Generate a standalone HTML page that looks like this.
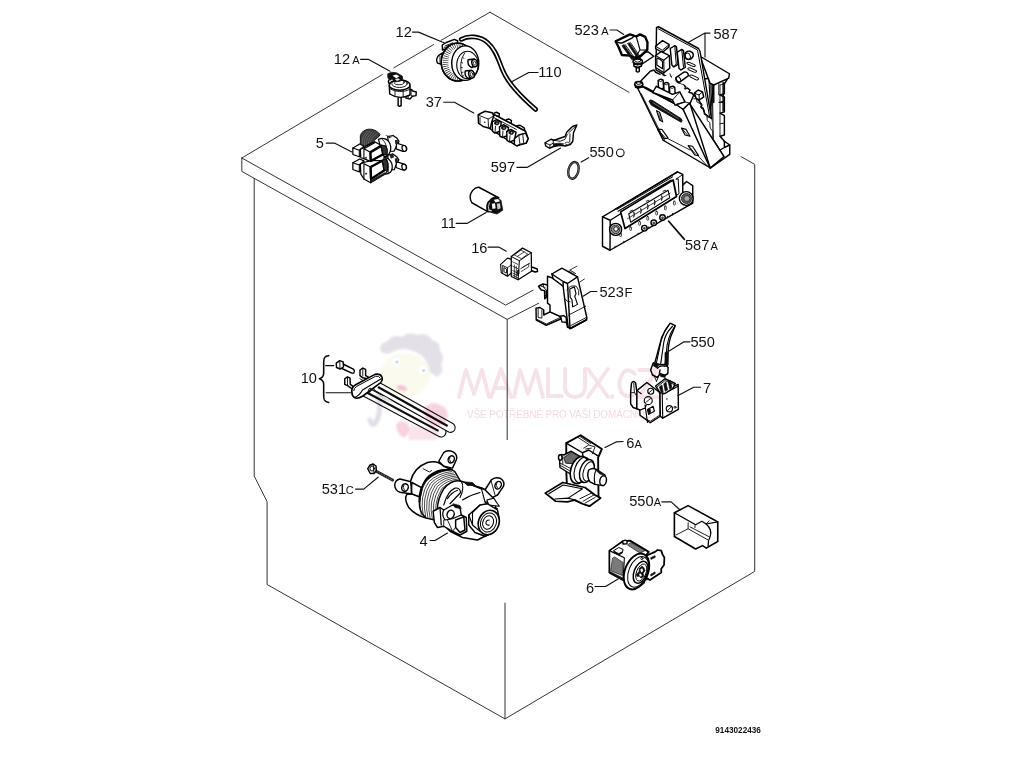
<!DOCTYPE html>
<html><head><meta charset="utf-8"><title>9143022436</title>
<style>
html,body{margin:0;padding:0;background:#fff;width:1024px;height:768px;overflow:hidden}
svg{display:block}
text{font-family:"Liberation Sans",sans-serif;fill:#111}
.n{font-size:14px}
.s{font-size:10.5px}
.cab{fill:none;stroke:#333;stroke-width:1;stroke-linecap:round;stroke-linejoin:round}
.ld{fill:none;stroke:#111;stroke-width:1.15;stroke-linecap:round;stroke-linejoin:round}
.p{fill:#fff;stroke:#000;stroke-width:11.5;stroke-linejoin:round;stroke-linecap:round}
.o{fill:none;stroke:#000;stroke-width:11.5;stroke-linejoin:round;stroke-linecap:round}
.t{fill:none;stroke:#111;stroke-width:7.5;stroke-linejoin:round;stroke-linecap:round}
.k{fill:#111;stroke:#111;stroke-width:6;stroke-linejoin:round}
.g{fill:#777;stroke:#111;stroke-width:7;stroke-linejoin:round}
.h{fill:#fff;stroke:#111;stroke-width:12;stroke-linejoin:round;stroke-linecap:round}
</style></head>
<body>
<svg width="1024" height="768" viewBox="0 0 1024 768">
<defs>
<filter id="b1" x="-20%" y="-20%" width="140%" height="140%"><feGaussianBlur stdDeviation="1.2"/></filter>
<filter id="b2" x="-20%" y="-20%" width="140%" height="140%"><feGaussianBlur stdDeviation="0.7"/></filter>
<filter id="idf" x="0" y="0" width="1024" height="768" filterUnits="userSpaceOnUse"><feOffset dx="0" dy="0"/></filter>
<filter id="soft" x="0" y="0" width="1024" height="768" filterUnits="userSpaceOnUse"><feGaussianBlur stdDeviation="0.38"/></filter>
</defs>
<rect width="1024" height="768" fill="#fff"/>

<g filter="url(#soft)">
<!-- CABINET -->
<g class="cab" id="cab">
<path d="M490 12.2 L441.1 40.3 M433.6 44.6 L393.9 67.8 M382.3 74.6 L241.8 158"/>
<path d="M490 12.2 L629 92.3 M741 156.6 L754.7 164.4 L754.7 571.4 L505 718.9 L267.1 584.5 L267.1 501.7 L254.2 476 L254.2 178.4"/>
<path d="M241.8 158 L241.8 171.4 L507.2 319.4 L538.7 303.2 M241.8 158 L505.7 305.1 L533 290.2"/>
<path d="M507.2 319.4 L507.2 439.6 M505 603 L505 718.9"/>
<path d="M570 270 L576.9 266.2 M580 281.9 L584.4 279"/>
</g>

<!-- PARTS -->
<g id="parts">
<g transform="translate(346,124) scale(.08333)" fill="#fff" stroke="#000" stroke-width="15" stroke-linejoin="round" stroke-linecap="round">
<!-- thread inlet -->
<path d="M172 240 L172 140 Q190 75 270 62 Q350 56 410 125 L395 150 L330 205 L240 265 Z" fill="#3c3c3c" stroke-width="10"/>
<path d="M198 240 Q185 140 262 82 M222 246 Q210 150 288 86 M246 245 Q236 158 314 94 M270 232 Q262 168 340 104 M296 215 Q292 172 366 118" fill="none" stroke="#8a8a8a" stroke-width="6"/>
<!-- lower nozzle -->
<path d="M500 372 L562 360 L608 392 L634 430 L610 470 L578 548 L520 552 Z"/>
<path d="M606 452 L684 478 Q735 494 726 530 Q712 560 680 552 L600 522 Z"/>
<ellipse cx="697" cy="516" rx="26" ry="36" transform="rotate(-15 697 516)"/>
<path d="M585 415 L618 408 L622 458 L590 462 Z" fill="#222" stroke="none"/>
<path d="M520 372 L560 352 L578 398 L540 418 Z" fill="#222" stroke="none"/>
<!-- upper nozzle -->
<path d="M500 150 L565 138 L612 172 L636 208 L612 250 L578 325 L520 330 Z"/>
<path d="M608 230 L686 255 Q737 270 728 306 Q714 336 682 328 L602 298 Z"/>
<ellipse cx="699" cy="292" rx="26" ry="36" transform="rotate(-15 699 292)"/>
<path d="M587 195 L620 188 L624 238 L592 242 Z" fill="#222" stroke="none"/>
<path d="M470 130 L530 150 L560 150 L520 172 Z" fill="#222" stroke="none"/>
<!-- lower valve body -->
<path d="M455 400 Q520 405 548 470 Q568 540 532 580 Q505 605 462 602 Z"/>
<path d="M478 412 Q525 470 505 590" fill="none" stroke-width="10"/>
<!-- upper valve body -->
<path d="M390 185 Q460 152 510 205 Q552 265 530 330 Q510 385 462 398 L420 300 Z"/>
<path d="M438 185 Q505 240 490 390" fill="none" stroke-width="10"/>
<!-- lower cube -->
<path d="M82 465 L165 420 L214 442 L214 500 L160 574 L82 546 Z"/>
<path d="M82 465 L160 492 L214 444 M160 492 L160 574" fill="none" stroke-width="13"/>
<!-- lower main block -->
<path d="M172 482 L214 462 L300 440 L442 436 L482 420 L500 470 L496 562 L470 600 L296 706 L215 660 L178 602 Z"/>
<path d="M215 476 L290 512 L296 706 M215 476 L215 660" fill="none" stroke-width="13"/>
<path d="M296 516 L440 438 L462 556 L300 660 Z" fill="#fff" stroke-width="28"/>
<path d="M440 436 L482 420 L500 470 L496 562 L462 556 Z" fill="#333" stroke-width="8"/>
<path d="M300 672 L466 578 L474 598 L298 702 Z" fill="#222" stroke="none"/>
<circle cx="240" cy="598" r="12" fill="#333" stroke="none"/>
<!-- upper cube -->
<path d="M82 288 L165 240 L214 264 L214 320 L160 393 L82 366 Z"/>
<path d="M82 288 L160 314 L214 266 M160 314 L160 393" fill="none" stroke-width="13"/>
<!-- upper main block -->
<path d="M172 306 L214 285 L240 265 L345 212 L412 252 L470 262 L492 300 L490 372 L445 365 L292 448 L215 416 L178 405 Z"/>
<path d="M215 298 L288 336 L292 448 M215 298 L215 416 M288 336 L412 256 M215 298 L345 224" fill="none" stroke-width="13"/>
<path d="M294 340 L426 260 L446 362 L298 444 Z" fill="#fff" stroke-width="28"/>
<path d="M426 258 L470 262 L492 300 L490 372 L446 362 Z" fill="#333" stroke-width="8"/>
<circle cx="240" cy="404" r="12" fill="#333" stroke="none"/>
</g>

<g transform="translate(295,345) scale(.125)">
<!-- bolt -->
<path class="p" d="M380 150 L470 195 Q482 210 470 225 L455 225 L375 188 Z"/>
<path class="p" d="M330 145 L358 125 L385 135 L388 175 L362 192 L332 180 Z"/>
<path class="t" d="M358 125 L360 192"/>
<!-- terminals -->
<path class="p" d="M520 200 L542 185 L565 195 L565 245 L585 255 L580 270 L540 262 L520 245 Z"/>
<path class="t" d="M542 185 L542 250 M520 270 L545 285"/>
<path class="p" d="M398 270 L420 255 L440 265 L442 315 L470 335 L455 350 L420 325 L398 315 Z"/>
<path class="t" d="M420 255 L420 320"/>
<!-- tubes (coords continue beyond) -->
<g fill="none" stroke-linecap="round">
<path d="M556 370 L1170 698" stroke="#111" stroke-width="84"/><path d="M556 370 L1170 698" stroke="#fff" stroke-width="66"/><path d="M556 370 L1148 687" stroke="#111" stroke-width="18" stroke-linecap="butt"/>
<path d="M664 336 L1244 661" stroke="#111" stroke-width="84"/><path d="M664 336 L1244 661" stroke="#fff" stroke-width="66"/><path d="M664 336 L1221 648" stroke="#111" stroke-width="18" stroke-linecap="butt"/>
</g>
<path d="M656 392 L728 416 L800 464 L712 440 Z" fill="#ddd"/>
<!-- flange -->
<path class="p" d="M455 375 Q450 340 485 318 L640 235 Q680 225 695 255 Q705 285 680 305 L540 410 Q500 435 475 420 Q455 405 455 375 Z" style="stroke-width:13"/>
<path class="o" d="M470 365 Q470 345 495 330 L645 250 Q672 245 680 262" style="stroke-width:8"/>
<path class="o" d="M478 420 Q520 400 540 360 L690 270" style="stroke-width:9"/>
<ellipse class="t" cx="598" cy="362" rx="10" ry="16" transform="rotate(30 598 362)"/>
</g>

<g transform="translate(420,160) scale(.125)">
<!-- capacitor body -->
<path class="p" d="M470 218 L630 302 L545 415 L415 342 Q385 290 420 245 Q445 215 470 218 Z"/>
<!-- connector -->
<path class="k" d="M545 340 Q560 305 600 292 L648 322 L662 402 L615 432 L540 412 Q530 375 545 340 Z"/>
<path d="M590 318 L625 312 L640 330 L605 340 Z" fill="#fff"/>
<path d="M575 350 L600 345 L605 385 L580 392 Z" fill="#fff"/>
<path d="M615 350 L640 345 L645 385 L620 395 Z" fill="#ccc"/>
<path d="M550 395 L575 402 L572 412 L548 405 Z" fill="#ddd"/>
<path class="o" d="M548 330 Q525 370 540 412" style="stroke-width:9"/>
<path d="M556 340 Q540 372 552 405" fill="none" stroke="#fff" stroke-width="6"/>
</g>

<g transform="translate(425,20) scale(.125)">
<!-- hose 110 -->
<path d="M290 155 C350 122 440 128 500 180 C570 240 590 330 625 410 C660 490 740 590 885 715" fill="none" stroke="#000" stroke-width="38" stroke-linecap="round"/>
<path d="M290 155 C350 122 440 128 500 180 C570 240 590 330 625 410 C660 490 740 590 885 715" fill="none" stroke="#fff" stroke-width="12" stroke-linecap="round"/>
<!-- bracket -->
<path class="p" d="M140 240 L138 200 L170 180 L235 155 L262 168 L255 205 L200 225 Z"/>
<path class="t" d="M160 208 L225 182 L228 205 M185 218 L185 198 M150 225 L205 200"/>
<!-- left boss -->
<path class="p" d="M140 262 L108 285 Q82 315 100 345 L145 358 Z"/>
<path class="t" d="M120 290 L120 340"/>
<!-- back rim -->
<ellipse class="p" cx="262" cy="337" rx="132" ry="152"/>
<clipPath id="c12"><ellipse cx="262" cy="337" rx="132" ry="152"/></clipPath><ellipse clip-path="url(#c12)" cx="282" cy="338" rx="118" ry="140" fill="none" stroke="#111" stroke-width="46" stroke-dasharray="5 11"/>
<ellipse class="o" cx="262" cy="337" rx="132" ry="152"/>
<ellipse class="p" cx="322" cy="345" rx="108" ry="138"/>
<ellipse class="o" cx="340" cy="360" rx="86" ry="110" style="stroke-width:9"/>
<path class="t" d="M318 262 Q262 340 300 462"/>
<path class="t" d="M300 300 l12 6 M290 340 l12 4 M288 380 l12 2 M292 420 l12 -2 M300 450 l10 -4" style="stroke-width:7"/>
<!-- ports -->
<path class="p" d="M345 318 L395 312 Q425 330 418 362 L372 380 Q335 360 345 318 Z"/>
<ellipse class="p" cx="397" cy="345" rx="22" ry="30" transform="rotate(-15 397 345)"/>
<ellipse class="o" cx="398" cy="346" rx="11" ry="16" transform="rotate(-15 398 346)" style="stroke-width:6"/>
<path class="p" d="M322 408 L372 402 Q400 420 393 452 L348 468 Q312 450 322 408 Z"/>
<ellipse class="p" cx="372" cy="435" rx="22" ry="30" transform="rotate(-15 372 435)"/>
<ellipse class="o" cx="373" cy="436" rx="11" ry="16" transform="rotate(-15 373 436)" style="stroke-width:6"/>
</g>

<g transform="translate(330,40) scale(.125)">
<!-- pin -->
<path class="p" d="M545 455 L545 525 Q557 535 569 525 L569 455 Z"/>
<!-- right connector -->
<path class="p" d="M600 402 L650 395 L665 410 L690 415 L688 445 L660 450 L640 472 L608 465 Z"/>
<path class="t" d="M650 395 L648 440 L660 450 M625 440 L625 468"/>
<!-- body -->
<path class="p" d="M474 365 L478 432 Q555 482 640 440 L640 368 Z"/>
<path class="t" d="M520 400 L520 452 M585 400 L585 455 M478 390 Q555 435 640 395"/>
<!-- dome -->
<ellipse class="p" cx="557" cy="360" rx="83" ry="42"/>
<ellipse class="o" cx="556" cy="350" rx="62" ry="30" style="stroke-width:7"/>
<ellipse class="o" cx="553" cy="338" rx="40" ry="20" style="stroke-width:7"/>
<!-- top connector dark -->
<path class="k" d="M462 270 L492 258 L532 262 L578 288 L582 312 L560 330 L520 335 L498 312 L478 322 L462 300 Z"/>
<path d="M500 285 L530 275 L555 290 L530 305 Z" fill="#fff"/>
<path d="M520 312 L545 305 L560 318 L535 328 Z" fill="#ddd"/>
<path class="o" d="M470 320 Q462 340 478 352" />
</g>

<g transform="translate(470,235) scale(.125)">
<!-- pin -->
<path class="p" d="M470 245 L500 258 L538 272 L540 292 L520 296 L480 280 Z"/>
<!-- left attach -->
<path class="p" d="M245 235 L300 185 L335 195 L335 300 L300 330 L250 302 Z" style="stroke-width:9"/>
<path class="t" d="M262 245 L300 262 L300 330 M262 245 L262 300 M300 262 L335 235 M272 265 L272 295 L292 305 L292 275 Z"/>
<circle cx="288" cy="322" r="7" fill="#111"/>
<!-- box -->
<path class="p" d="M330 172 L420 105 L490 142 L492 290 L385 358 L330 332 Z" style="stroke-width:10"/>
<path class="o" d="M330 172 L395 206 L490 142 M395 206 L385 358" style="stroke-width:8"/>
<path class="t" d="M355 160 L412 190 L462 152 L410 122 Z M380 170 L435 135" style="stroke-width:6"/>
<path class="t" d="M342 285 L383 306 M342 305 L383 326 M342 322 L383 343 M355 240 L355 338 M370 250 L370 346" style="stroke-width:6"/>
<path class="t" d="M342 215 L383 235 M342 250 L383 270" style="stroke-width:6"/>
<path class="t" d="M405 270 L478 225 M415 262 L470 230 L470 255 L410 292" style="stroke-width:6"/>
<path class="k" d="M378 285 L392 278 L392 312 L378 318 Z"/>
</g>

<g transform="translate(420,80) scale(.125)">
<!-- top tabs -->
<path class="p" d="M588 285 L592 265 L612 258 L635 270 L632 292 Z"/>
<path class="p" d="M685 340 L690 318 L712 312 L732 325 L728 348 Z"/>
<path class="p" d="M765 392 L772 368 L800 362 L835 385 L838 410 Z"/>
<!-- long bar -->
<path class="p" d="M565 285 L600 280 L845 410 L865 470 L850 505 L780 525 L755 515 L560 390 Z"/>
<!-- terminal blocks -->
<path class="p" d="M578 335 L612 318 L650 338 L640 410 L600 425 L580 410 Z"/>
<path class="p" d="M636 375 L668 358 L708 380 L698 445 L660 460 L638 448 Z"/>
<path class="p" d="M694 412 L726 396 L768 418 L756 482 L716 495 L696 484 Z"/>
<path class="k" d="M596 340 a18 13 0 1 0 36 10 a18 13 0 1 0 -36 -10Z"/>
<path class="k" d="M652 378 a18 13 0 1 0 36 10 a18 13 0 1 0 -36 -10Z"/>
<path class="k" d="M712 416 a18 13 0 1 0 36 10 a18 13 0 1 0 -36 -10Z"/>
<circle cx="616" cy="346" r="6" fill="#ccc"/><circle cx="672" cy="384" r="6" fill="#ccc"/><circle cx="732" cy="422" r="6" fill="#ccc"/>
<path class="t" d="M600 425 L604 370 M660 460 L664 408 M716 495 L720 445"/>
<!-- right end cap -->
<path class="p" d="M755 470 L790 440 L845 425 L865 470 L848 505 L800 515 L775 528 L755 515 Z"/>
<path class="t" d="M790 442 L800 515 M822 432 L830 508"/>
<path class="o" d="M600 282 L845 412 M590 300 L770 395" style="stroke-width:7"/>
<!-- left block -->
<path class="p" d="M465 278 L520 250 L578 262 L590 288 L575 332 L562 388 L505 372 L468 345 Z"/>
<path class="t" d="M468 282 L545 312 L590 288 M545 312 L548 382 M480 300 L480 345"/>
<circle cx="518" cy="338" r="6" fill="#111"/>
</g>

<g transform="translate(385,445) scale(.125)">
<!-- top lug -->
<path class="p" d="M430 130 L470 60 Q500 35 545 55 Q585 80 570 120 L540 185 L470 170 Z"/>
<ellipse class="p" cx="530" cy="115" rx="24" ry="30" transform="rotate(25 530 115)"/>
<path class="t" d="M520 95 Q505 115 525 135"/>
<!-- right lug -->
<path class="p" d="M800 360 L850 280 Q880 250 925 268 Q965 295 945 335 L900 400 L860 420 Z"/>
<ellipse class="p" cx="905" cy="322" rx="24" ry="32" transform="rotate(25 905 322)"/>
<path class="t" d="M895 300 Q880 322 900 345 M850 290 L880 400"/>
<!-- left lug -->
<path class="p" d="M230 300 L120 272 Q80 280 78 320 Q80 365 120 378 L215 392 Z"/>
<ellipse class="p" cx="160" cy="340" rx="26" ry="30" transform="rotate(20 160 340)"/>
<path class="t" d="M150 322 Q138 340 155 360"/>
<!-- rear housing -->
<path class="p" d="M205 290 Q230 180 340 140 Q420 120 470 170 L540 200 L330 585 Q240 560 190 500 Q150 430 175 395 L215 392 Z"/>
<path class="t" d="M305 190 L355 215 L372 205"/>
<path class="o" d="M215 300 L300 345 M215 392 L290 420 M215 300 L210 392"/>
<!-- lamination band -->
<path class="p" d="M300 330 Q330 230 450 200 Q530 185 560 215 L605 290 L400 600 L330 585 Q270 540 275 450 Z"/>
<g class="t" style="stroke-width:6">
<path d="M290 560 Q255 400 330 290 Q400 215 520 200"/>
<path d="M308 572 Q272 410 348 298 Q418 225 535 212"/>
<path d="M326 580 Q290 420 366 306 Q436 235 548 224"/>
<path d="M344 588 Q308 430 384 314 Q454 245 560 236"/>
<path d="M362 594 Q326 440 402 322 Q472 255 570 248"/>
<path d="M380 598 Q344 450 420 330 Q490 265 580 260"/>
<path d="M398 602 Q362 460 438 338 Q508 275 590 272"/>
<path d="M416 604 Q380 470 456 346 Q526 285 598 284"/>
</g>
<path class="o" d="M275 450 Q270 340 340 270 Q420 200 530 195" style="stroke-width:14"/>
<!-- front housing -->
<path class="p" d="M430 600 Q395 470 470 350 Q540 270 610 290 L790 350 L880 470 L900 560 L860 700 L740 760 L620 740 L520 690 Z"/>
<path class="o" d="M470 480 Q500 370 560 345 Q600 340 605 380 L520 470 M500 430 Q530 380 580 362" style="stroke-width:9"/>
<path class="o" d="M610 290 Q640 340 600 420 M640 300 L780 355 M620 440 Q680 400 760 380" style="stroke-width:9"/>
<path class="k" d="M630 295 L700 300 L720 320 L660 325 Z"/>
<path class="p" d="M770 345 L800 360 L860 420 L875 470 L800 455 Z" style="stroke-width:9"/>
<path class="p" d="M815 440 L870 425 L900 470 L915 490 L830 480 Z" style="stroke-width:9"/>
<path class="o" d="M800 455 L830 500 L900 510" style="stroke-width:9"/>
<!-- shaft end -->
<path class="p" d="M670 560 L760 480 L820 470 L900 520 L915 600 L880 690 L800 730 L720 700 L670 640 Z"/>
<ellipse class="p" cx="830" cy="620" rx="82" ry="100" transform="rotate(20 830 620)" style="stroke-width:13"/>
<ellipse class="o" cx="828" cy="620" rx="62" ry="78" transform="rotate(20 828 620)" style="stroke-width:8"/>
<ellipse class="o" cx="825" cy="620" rx="42" ry="55" transform="rotate(20 825 620)" style="stroke-width:8"/>
<path class="t" d="M835 600 Q805 600 808 628 Q815 645 835 640" style="stroke-width:9"/>
<path class="o" d="M670 560 L700 640 L760 690 M760 480 L700 540 L700 640" style="stroke-width:9"/>
<!-- brush holder -->
<path class="p" d="M385 530 L440 500 L470 520 L540 480 L600 500 L610 560 L650 580 L655 690 L600 720 L540 690 L470 650 L420 660 L395 620 Z"/>
<path class="o" d="M440 500 L450 640 M470 520 Q450 560 480 600 L540 590 L610 560" style="stroke-width:10"/>
<ellipse class="p" cx="525" cy="555" rx="28" ry="34" transform="rotate(20 525 555)"/>
<path class="k" d="M545 470 L600 485 L610 510 L560 500 Z"/>
<path class="p" d="M565 600 L630 575 L640 680 L600 700 L565 660 Z" style="stroke-width:12"/>
<path class="t" d="M470 600 L470 650 M500 600 L540 690 M565 660 L540 690"/>
</g>

<g transform="translate(560,10) scale(.125)">
<!-- bracket right -->
<path class="p" d="M640 345 L705 335 L750 370 L660 430 L640 400 Z"/>
<!-- cup -->
<path class="p" d="M445 250 L560 195 L610 212 L640 195 L682 215 L700 260 L698 320 L645 368 L600 382 L560 365 L495 360 L470 300 Z" style="stroke-width:19"/>
<path class="o" d="M445 250 Q470 268 500 262 L575 225 Q600 210 580 200" />
<path class="o" d="M610 212 L640 320 L698 320 M640 320 L600 382" style="stroke-width:9"/>
<path class="k" d="M495 285 L512 278 L590 390 L575 398 Z"/>
<path class="k" d="M540 268 L556 262 L625 365 L610 372 Z"/>
<path class="t" d="M520 275 L598 385 M565 262 L632 360"/>
<!-- screw -->
<ellipse class="p" cx="622" cy="412" rx="38" ry="22"/>
<ellipse class="o" cx="622" cy="405" rx="24" ry="12" style="stroke-width:8"/>
<path class="p" d="M590 425 L592 450 Q620 465 652 448 L655 425 Q620 445 590 425 Z"/>
<path class="p" d="M610 462 L610 492 Q622 500 634 492 L634 462 Z"/>
<path class="k" d="M585 415 Q620 440 660 415 L655 430 Q620 452 590 432 Z"/>
</g>

<g transform="translate(470,235) scale(.125)">
<!-- left clip -->
<path class="p" d="M548 410 L585 392 L640 405 L640 430 L612 445 L610 500 L598 510 L596 445 L570 440 Z"/>
<path class="t" d="M585 392 L590 420 L612 445 M570 410 L600 420 M600 455 L612 460 M598 480 L612 485"/>
<!-- base plate -->
<path class="p" d="M528 585 L560 580 L590 600 L590 640 L640 615 L720 650 L725 672 L610 722 L530 680 Z"/>
<path class="t" d="M545 590 L545 660 L575 665 L575 600 M530 672 L610 712 L722 660"/>
<!-- back plate -->
<path class="p" d="M620 330 L660 345 L760 400 L800 745 L780 738 L770 690 L730 655 L640 615 L640 560 L620 545 Z"/>
<!-- hook -->
<path class="p" d="M725 650 L750 645 L770 660 L772 700 L735 695 Z"/>
<!-- tower -->
<path class="p" d="M655 312 L735 265 L860 335 L935 662 L930 680 L805 748 L785 735 L745 410 L665 350 Z"/>
<path class="o" d="M655 312 L745 372 L780 388 L860 335 M745 372 L745 410 M780 388 L800 745"/>
<path class="t" d="M665 350 L745 410 M790 640 L925 570 M805 725 L930 660"/>
<path class="o" d="M800 748 L932 678" style="stroke-width:14"/>
<!-- keyhole -->
<path class="t" d="M775 440 Q800 395 850 410 Q880 440 870 480"/>
<path class="p" d="M798 432 L835 415 L848 470 L838 490 L860 555 L822 575 L815 515 L802 500 Z" style="stroke-width:9"/>
<path class="t" d="M760 510 Q775 540 800 535"/>
<path class="t" d="M790 290 L835 315 M800 282 L845 308"/>
</g>

<g transform="translate(310,455) scale(.125)">
<path class="o" d="M530 130 L660 200" style="stroke:#222;stroke-width:24"/>
<path d="M540 135 L655 198" stroke="#fff" stroke-width="6" fill="none" stroke-dasharray="4 12"/>
<path class="p" d="M462 110 L478 82 L505 72 L528 88 L530 125 L512 148 L482 148 Z" style="stroke-width:12"/>
<ellipse class="o" cx="497" cy="108" rx="18" ry="20" style="stroke-width:8"/>
<path class="t" d="M505 72 L512 148"/>
</g>

<g transform="translate(620,480) scale(.125)">
<path class="p" d="M435 262 L545 205 L782 335 L782 492 L690 545 L660 525 L605 552 L435 452 Z" style="stroke-width:13"/>
<path class="o" d="M435 262 L605 358 L655 330 L690 352 L782 335" style="stroke-width:10"/>
<path class="o" d="M690 352 Q740 400 722 450 Q700 490 705 530" style="stroke-width:10"/>
<path class="t" d="M448 440 L545 390 L545 342 M545 390 L705 480 M560 375 L715 455 M690 352 L712 328"/>
<path class="t" d="M600 365 L600 380"/>
</g>

<g transform="translate(610,315) scale(.125)">
<!-- lever -->
<path class="p" d="M482 65 L522 85 L500 140 Q470 200 465 290 L462 400 L440 405 L358 385 Q395 250 412 185 Q435 125 482 65 Z"/>
<path class="o" d="M500 90 Q440 150 430 220 L405 395 M470 80 Q425 140 410 200 L370 390" style="stroke-width:9"/>
<path class="o" d="M512 100 Q458 180 452 290 L440 400" style="stroke-width:9"/>
<path class="k" d="M440 300 L462 295 L462 400 L440 400 Z"/>
<!-- base -->
<path class="p" d="M345 385 L380 400 L440 395 L465 420 L462 470 L440 482 L400 470 L380 500 L340 480 L325 440 Z"/>
<path class="k" d="M345 380 L385 395 L380 425 L350 410 Z"/>
<path class="o" d="M380 425 Q400 400 440 410 M395 470 L400 440"/>
<path class="k" d="M400 470 L440 482 L442 500 L405 492 Z"/>
<path class="t" d="M350 480 L372 530 M385 500 L372 530"/>
</g>

<g transform="translate(590,160) scale(.125)">
<!-- body -->
<path class="p" d="M100 455 L195 398 L700 95 L742 115 L742 200 L772 172 L822 205 L822 345 L160 722 L100 690 Z"/>
<path class="o" d="M100 455 L162 482 L160 722 M162 482 L245 430"/>
<path class="o" d="M742 200 L742 260 M700 95 L195 398" />
<path class="t" d="M742 118 L690 150 M772 175 L745 200"/>
<!-- top back lines -->
<path class="o" d="M215 395 L660 135 M225 410 L650 160" style="stroke-width:9"/>
<!-- display frame -->
<path class="p" d="M245 415 L665 160 L692 292 L280 548 Z" style="stroke-width:14"/>
<path class="p" d="M310 430 L625 242 L638 302 L325 498 Z" style="stroke-width:9"/>
<path class="o" d="M300 470 L640 265" style="stroke-width:6"/>
<path class="t" d="M350 455 q10 -25 0 -35 M405 425 q10 -25 0 -35 M460 392 q10 -25 0 -35 M515 358 q10 -25 0 -35 M572 322 q10 -25 0 -35" style="stroke-width:9"/>
<path class="t" d="M320 410 l20 -8 M450 330 l20 -8 M585 250 l20 -8"/>
<path class="o" d="M690 155 L705 150 L712 270 L695 280" style="stroke-width:8"/>
<!-- knobs -->
<circle class="p" cx="205" cy="555" r="48"/>
<circle class="g" cx="205" cy="555" r="34" style="fill:#999"/>
<circle class="p" cx="208" cy="552" r="18" style="stroke-width:7"/>
<circle class="p" cx="770" cy="308" r="55"/>
<circle class="g" cx="772" cy="308" r="40" style="fill:#666"/>
<circle class="g" cx="775" cy="308" r="24" style="fill:#aaa;stroke-width:6"/>
<!-- buttons -->
<circle class="p" cx="435" cy="545" r="22"/><circle cx="435" cy="547" r="11" fill="#444"/>
<circle class="p" cx="510" cy="502" r="22"/><circle cx="510" cy="504" r="11" fill="#444"/>
<circle class="p" cx="580" cy="460" r="22"/><circle cx="580" cy="462" r="11" fill="#444"/>
<!-- slots -->
<g class="t" style="stroke-width:6">
<rect x="238" y="582" width="14" height="30" rx="5"/>
<rect x="318" y="535" width="14" height="28" rx="5"/>
<rect x="390" y="492" width="14" height="30" rx="5"/>
<rect x="455" y="452" width="14" height="30" rx="5"/>
<rect x="526" y="410" width="14" height="30" rx="5"/>
<rect x="596" y="368" width="14" height="30" rx="5"/>
<rect x="668" y="330" width="14" height="30" rx="5"/>
</g>
<path class="t" d="M200 690 l0 12 M270 650 l0 12 M385 585 l0 12 M470 535 l0 12 M620 450 l0 12 M660 428 l0 12"/>
</g>

<g transform="translate(620,80) scale(.125)">
<!-- right ribbed side -->
<path class="p" d="M640 0 L735 -20 L860 -10 L835 30 L835 110 L800 120 L835 135 L835 255 L800 265 L835 285 L835 440 L800 450 L835 490 L878 520 L878 595 L722 705 L560 190 Z"/>
<path class="o" d="M835 490 L835 540 L878 520 M835 540 L800 560"/>
<path class="t" d="M800 40 L800 450 M800 40 L835 30 M800 175 L835 170 M800 350 L835 345"/>
<path class="o" d="M738 0 L745 470 M712 0 L728 300" style="stroke-width:9"/><path d="M716 0 L736 0 L742 380 L730 300 Z" fill="#555"/>
<!-- inner wall -->
<path class="o" d="M655 0 L725 300 M640 5 L705 300" style="stroke-width:9"/>
</g>

<g transform="translate(610,15) scale(.125)">
<!-- back box top (right) -->
<path class="p" d="M720 330 L955 470 L950 505 L830 560 L800 545 Z"/>
<path class="o" d="M830 560 L830 700 M905 540 L905 768 M830 560 L800 760"/>
<path class="t" d="M870 545 L870 640 L905 640 M870 700 L905 700"/>
<!-- PCB -->
<path class="p" d="M372 100 L388 94 L708 268 L720 290 L812 830 L760 790 L750 768 L745 745 L728 735 L735 720 L715 690 L670 640 L655 625 L632 618 L640 600 L620 585 L600 590 L605 575 L590 560 L540 545 L368 440 Z"/>
<path class="o" d="M385 110 L700 280 L798 820" style="stroke-width:8"/>
<!-- chip -->
<path class="p" d="M365 250 L420 205 L472 235 L472 255 L418 300 L365 268 Z"/>
<path class="o" d="M365 250 L418 282 L472 238" style="stroke-width:8"/>
<!-- transformer -->
<path class="p" d="M365 325 L410 292 L475 325 L478 425 L432 462 L365 420 Z"/>
<path class="o" d="M365 325 L430 362 L475 325 M430 362 L432 462" style="stroke-width:9"/>
<path class="o" d="M375 345 Q400 350 420 372 L420 430 L375 400 Z" style="stroke-width:9"/>
<!-- relays -->
<path class="p" d="M482 268 L518 245 L532 255 L545 395 L510 415 L495 400 Z"/>
<path class="o" d="M518 245 L530 392 L510 415" style="stroke-width:8"/>
<path class="p" d="M538 298 L574 275 L588 285 L602 420 L568 440 L552 428 Z"/>
<path class="o" d="M574 275 L588 420 L568 440" style="stroke-width:8"/>
<!-- cyl top right -->
<path class="p" d="M600 310 Q610 285 640 290 Q672 300 665 330 L650 350 Q620 365 602 340 Z"/>
<ellipse class="o" cx="622" cy="330" rx="20" ry="26" transform="rotate(-20 622 330)" style="stroke-width:8"/>
<!-- slots -->
<path class="o" d="M618 380 L632 378 L682 400 L680 412 L665 412 L620 392 Z" style="stroke-width:8"/>
<path class="o" d="M625 425 L640 422 L692 445 L690 458 L675 458 L628 438 Z" style="stroke-width:8"/>
<path class="o" d="M640 482 L655 480 L708 505 L706 518 L690 520 L642 496 Z" style="stroke-width:8"/>
<!-- lying capacitor -->
<path class="p" d="M528 500 L595 455 Q625 455 628 485 L560 535 Q530 540 528 500 Z"/>
<ellipse class="o" cx="546" cy="516" rx="18" ry="24" transform="rotate(-30 546 516)" style="stroke-width:8"/>
<!-- small cube -->
<path class="p" d="M675 625 L705 600 L740 615 L750 655 L715 680 L690 668 Z"/>
<path class="o" d="M675 625 L712 640 L740 615 M712 640 L715 680" style="stroke-width:8"/>
<!-- zigzag -->
<path class="t" d="M590 560 L605 575 L600 590 L620 585 L640 600 L632 618 L655 625 L670 640"/>
<path class="t" d="M715 690 L735 720 L728 735 L745 745 L750 768"/>
<!-- small bits -->
<path class="t" d="M380 445 L430 470 M480 470 L490 500 M420 480 L440 495"/>
<path class="k" d="M478 495 L492 490 L495 520 L482 525 Z"/>
<!-- housing rim -->
<path class="p" d="M228 548 L322 450 L352 440 L365 458 L430 492 L470 480 L540 545 L590 560 L560 640 L300 640 Z" style="stroke:none"/>
<path class="o" d="M235 540 L322 450 L352 440 L365 458 L400 475"/>
<!-- three cylinders -->
<path class="p" d="M385 525 Q405 505 425 522 L428 585 Q408 598 388 582 Z"/>
<path class="p" d="M430 552 Q450 532 470 548 L474 615 Q452 628 432 612 Z"/>
<path class="p" d="M476 580 Q498 560 518 578 L522 642 Q500 655 478 640 Z"/>
<path class="t" d="M385 525 Q405 545 425 522 M430 552 Q450 570 470 548 M476 580 Q498 598 518 578"/>
</g>

<g transform="translate(620,80) scale(.125)">
<!-- housing front -->
<path class="p" d="M140 62 L175 50 L265 100 L440 190 L505 235 L720 702 L345 482 Z"/>
<path class="o" d="M175 50 L210 62 L440 190"/>
<path class="o" d="M505 235 L555 185 L832 612 M722 705 L832 612" />

<path class="t" d="M590 150 L612 150 L615 175 L650 195 L648 225 L675 240 L672 272 L695 290 L698 325 L718 340 L722 385 L742 410 L745 470 L832 612"/>
<!-- top block with cylinders base -->
<path class="p" d="M262 100 L290 50 L420 115 L478 95 L520 175 L440 200 L420 160 Z"/>
<path class="t" d="M420 160 L478 95 M440 200 L520 175 L555 185 L505 235"/>
<!-- slot -->
<path d="M232 170 Q240 152 262 165 L490 310 Q502 325 490 338 L250 200 Z" fill="#111" stroke="#111" stroke-width="8" stroke-linejoin="round"/>
<path d="M262 180 L470 312" stroke="#999" stroke-width="5" fill="none"/>
<path class="o" d="M292 245 L318 260 L342 335 L318 322 Z" style="stroke-width:9"/>
<path class="o" d="M310 270 L325 318" style="stroke-width:6"/>
<!-- diamonds -->
<path class="o" d="M300 395 L335 395 L385 465 L355 470 Z" style="stroke-width:9"/>
<path class="t" d="M315 410 L362 462"/>
<path class="o" d="M492 385 L528 395 L560 450 L520 440 Z" style="stroke-width:9"/>
<path class="t" d="M505 400 L540 440"/>
<path class="o" d="M545 525 L580 530 L628 605 L598 600 Z" style="stroke-width:9"/>
<path class="t" d="M560 540 L605 595"/>
<path class="t" d="M170 110 L360 490 M385 470 L560 560 M628 610 L700 690"/>
<!-- screw -->
<ellipse class="p" cx="150" cy="32" rx="32" ry="20"/>
<ellipse class="o" cx="150" cy="24" rx="22" ry="11" style="stroke-width:8"/>
<path class="o" d="M118 35 L125 58 Q150 70 178 55 L182 35" />
</g>

<g transform="translate(510,100) scale(.125)">
<!-- clip 597 -->
<path class="p" d="M280 342 L328 314 L352 322 L400 306 L440 292 L455 256 L500 212 L535 200 L508 262 L502 332 L482 356 L442 368 L400 362 L348 372 L316 386 L286 368 Z"/>
<path class="t" d="M345 325 L348 372 M352 322 L400 330 L440 315 L458 275 M470 262 L520 215 M480 270 L478 335 M286 345 L320 360 L345 345 M320 360 L318 385"/>
<ellipse cx="458" cy="347" rx="18" ry="10" fill="#fff" stroke="#111" stroke-width="6"/>
<path class="k" d="M350 350 L400 345 L430 352 L400 362 L350 368 Z"/>
<!-- ring 550 -->
<g transform="rotate(14 508 562)">
<ellipse cx="508" cy="563" rx="40" ry="68" fill="none" stroke="#111" stroke-width="19"/>
<ellipse cx="508" cy="563" rx="40" ry="68" fill="none" stroke="#bbb" stroke-width="3.5"/>
</g>
</g>

<g transform="translate(575,525) scale(.125)">
<!-- body box -->
<path class="p" d="M275 205 L385 128 L440 125 L590 215 L420 440 L385 440 L275 380 Z" style="stroke-width:14"/>
<path class="o" d="M275 205 L395 262 L385 440" style="stroke-width:9"/>
<path class="g" d="M300 265 L318 255 L385 300 L380 405 L285 365 Z" style="fill:#7a7a7a;stroke-width:5"/>
<path class="g" d="M420 160 L445 140 L560 205 L520 225 Z" style="fill:#7a7a7a;stroke-width:5"/>
<path class="k" d="M275 370 L385 425 L385 445 L275 385 Z"/>
<path class="o" d="M310 205 L350 180 L385 195 L380 215 L350 232 Z" style="stroke-width:8"/>
<path class="k" d="M312 210 L350 228 L380 215 L378 225 L350 240 L312 222 Z"/>
<path class="p" d="M380 132 Q400 112 418 130 L415 150 L385 152 Z"/>
<!-- bracket right -->
<path class="p" d="M560 250 L640 215 L660 200 L690 205 L700 235 L715 260 L712 320 L690 350 L690 380 L600 440 L560 420 Z" style="stroke-width:14"/>
<path class="k" d="M605 262 L640 245 L642 258 L608 275 Z"/>
<path class="k" d="M605 395 L640 375 L642 388 L608 408 Z"/>
<!-- flange -->
<ellipse class="p" cx="492" cy="372" rx="92" ry="150" transform="rotate(22 492 372)" style="stroke-width:15"/>
<ellipse class="o" cx="505" cy="375" rx="75" ry="128" transform="rotate(22 505 375)" style="stroke-width:8"/>
<ellipse class="p" cx="525" cy="378" rx="52" ry="92" transform="rotate(22 525 378)" style="stroke-width:12"/>
<ellipse class="o" cx="530" cy="380" rx="38" ry="72" transform="rotate(22 530 380)" style="stroke-width:7"/>
<path class="k" d="M515 345 L535 330 L550 340 L560 365 L545 385 L550 410 L530 425 L515 410 L495 410 L492 392 L512 375 Z"/>
<path d="M522 355 L538 345 L545 368 L530 380 Z M512 392 L528 388 L535 408 L520 412 Z" fill="#fff"/>
<circle class="t" cx="535" cy="268" r="9"/><circle class="t" cx="580" cy="268" r="9"/>
<circle class="t" cx="575" cy="430" r="9"/><circle class="t" cx="545" cy="462" r="9"/>
</g>

<g transform="translate(530,420) scale(.125)">
<!-- back plate -->
<path class="p" d="M290 185 L405 122 L575 232 L545 300 L548 615 L475 688 L400 660 L350 640 L300 640 L290 400 Z" style="stroke-width:15"/>
<path class="o" d="M290 185 L420 262 L470 240 L540 285 M420 262 L425 300"/>
<path class="t" d="M385 140 L470 195 M400 132 L485 188 M430 225 L470 200 L520 215 L500 270 M445 232 L490 225"/>
<!-- base -->
<path class="p" d="M122 585 L262 500 L440 540 L520 600 L565 625 L478 688 L425 672 L360 640 L300 655 L205 650 Z" style="stroke-width:14"/>
<path class="o" d="M150 590 L265 520 L420 550 L305 625 L360 640 M305 625 L200 632" style="stroke-width:9"/>
<path class="t" d="M400 630 L490 585 L530 610 M425 650 L510 600 M440 665 L520 620"/>
<!-- motor left -->
<path class="p" d="M235 290 Q245 270 270 280 L330 250 L400 290 L380 420 L320 430 L240 380 Z"/>
<path class="g" d="M270 300 L335 258 L395 295 L350 350 L285 345 Z" style="fill:#6a6a6a"/>
<path class="t" d="M240 345 L330 390 M245 365 L325 410 M262 290 L262 350" />
<ellipse class="p" cx="242" cy="300" rx="14" ry="22"/>
<!-- pump flange -->
<ellipse class="p" cx="395" cy="400" rx="68" ry="112" transform="rotate(18 395 400)" style="stroke-width:13"/>
<ellipse class="o" cx="418" cy="400" rx="60" ry="105" transform="rotate(18 418 400)" style="stroke-width:9"/>
<ellipse class="p" cx="455" cy="408" rx="55" ry="95" transform="rotate(18 455 408)" />
<ellipse class="o" cx="470" cy="412" rx="42" ry="80" transform="rotate(18 470 412)" style="stroke-width:8"/>
<!-- outlet -->
<path class="p" d="M470 400 Q500 380 530 395 L600 440 L590 525 L520 515 L480 495 Q450 450 470 400 Z"/>
<path class="o" d="M530 395 Q505 450 520 515" style="stroke-width:9"/>
<path class="k" d="M520 395 L548 405 L590 440 L560 432 Z"/>
<ellipse class="p" cx="585" cy="485" rx="26" ry="40" transform="rotate(12 585 485)"/>
</g>

<g transform="translate(610,360) scale(.125)">
<!-- left tab -->
<path class="p" d="M165 262 L172 185 Q188 160 205 185 L215 255 L215 390 L185 380 L165 350 Z"/>
<path class="t" d="M190 185 L195 260 M165 262 L195 260 L215 290"/>
<!-- left plate -->
<path class="p" d="M215 245 L295 180 L400 262 L402 450 L322 502 L240 442 L238 400 L215 390 Z"/>
<path class="o" d="M215 245 L250 270 M280 360 L300 500 M240 400 L280 385 L290 360" style="stroke-width:9"/>
<circle class="p" cx="326" cy="250" r="24" style="stroke-width:9"/>
<path class="t" d="M312 262 L340 238"/>
<circle class="p" cx="306" cy="325" r="32" style="stroke-width:9"/>
<path class="t" d="M285 340 L325 308"/>
<path class="p" d="M300 395 L345 370 L355 410 L310 435 Z" style="stroke-width:9"/>
<path class="k" d="M300 395 L320 385 L325 420 L308 432 Z"/>
<path class="t" d="M250 450 L322 490 L400 440"/>
<!-- right block -->
<path class="p" d="M400 262 L545 195 L547 395 L422 465 L402 450 Z"/>
<path class="o" d="M418 275 L422 465 M418 275 L545 210" style="stroke-width:9"/>
<circle class="p" cx="475" cy="390" r="25" style="stroke-width:9"/>
<path class="t" d="M460 405 L490 375"/>
<circle class="t" cx="520" cy="378" r="8"/>
<circle cx="455" cy="312" r="6" fill="#111"/>
<!-- top connector -->
<path class="p" d="M365 208 L440 150 L522 188 L505 225 L440 268 L400 262 Z"/>
<path class="k" d="M395 215 L415 200 L425 255 L410 262 Z"/>
<path class="k" d="M430 190 L448 178 L460 240 L442 250 Z"/>
<path class="k" d="M465 170 L482 162 L495 220 L478 232 Z"/>
<path class="t" d="M380 212 L440 165 L510 195"/>
</g>

</g>

<!-- WATERMARK -->
<g id="wm" style="mix-blend-mode:multiply">
<g filter="url(#b1)">
<!-- hair -->
<path d="M381 352 Q378 343 388 341 Q392 334 402 337 Q408 331 418 335 Q428 332 432 340 Q441 342 440 351 Q446 357 441 364 Q445 372 437 377 L430 372 Q428 358 416 352 Q402 346 392 352 Q386 355 381 352 Z" fill="#e4e0e8"/>
<!-- face -->
<ellipse cx="405" cy="375" rx="25" ry="22" fill="#fbfaee"/>
<!-- ponytail -->
<path d="M378 396 Q382 412 376 422 Q372 428 370 420" fill="none" stroke="#e2dee6" stroke-width="5" stroke-linecap="round"/>
<!-- body pink -->
<path d="M424 408 Q432 400 440 405 Q450 408 447 420 Q444 428 432 426 Q424 420 424 408 Z" fill="#f8d3de"/>
<path d="M396 424 Q402 418 408 424 Q412 432 404 438 Q396 434 396 424 Z" fill="#f8d3de"/>
<path d="M410 425 L440 430 L436 440 L408 440 Z" fill="#fae3ea"/>
<!-- lips -->
<ellipse cx="402" cy="388" rx="5.5" ry="2.6" fill="#f2c2d2" transform="rotate(15 402 388)"/>
</g>
<g filter="url(#b2)">
<circle cx="396" cy="361.5" r="4" fill="#fff"/><circle cx="422.5" cy="370" r="4" fill="#fff"/>
<circle cx="397" cy="362" r="1.6" fill="#c6d8ea"/><circle cx="423.5" cy="370.500" r="1.6" fill="#c6d8ea"/>
</g>
<g filter="url(#b2)" fill="none" stroke="#f6e2ea" stroke-width="3.8" stroke-linecap="round" stroke-linejoin="round">
<path d="M459 397 L466 370 L474 394 L482 370 L489 397"/>
<path d="M491 397 L501 369 L511 397 M495 388 L508 388"/>
<path d="M514 397 L520 370 L528 394 L536 370 L543 397"/>
<path d="M548 369 L548 396 L562 396"/>
<path d="M565 369 L565 388 Q566 397 575 397 Q584 397 585 388 L585 369"/>
<path d="M588 369 L608 397 M608 369 L588 397"/>
<path d="M612 396 L612 397"/>
<path d="M635 374 Q628 367 623 373 Q617 382 621 392 Q627 400 636 393"/>
<path d="M639 370 L657 370 L639 397 L658 397"/>
</g>
<text x="467" y="418" filter="url(#b2)" style="font-size:10px;fill:#f7dade;font-family:'Liberation Sans',sans-serif" textLength="190" lengthAdjust="spacing">VŠE POTŘEBNÉ PRO VAŠI DOMÁCNOST</text>

</g>

<!-- LEADERS -->
<g class="ld" id="leaders">
<path d="M412.4 32.1 H418.5 L444.5 43"/>
<path d="M360.6 59.4 H368.7 L390 71.2"/>
<path d="M538.1 72.5 H528.7 L511.2 81.9"/>
<path d="M443.7 102.2 H454.4 L473.7 113.1"/>
<path d="M326.2 143.1 H334.4 L351.9 151.9"/>
<path d="M517 167.4 H527 L560.6 148.1"/>
<path d="M581.2 162.1 L588.7 157.7"/>
<path d="M456.2 223.4 H466.9 L486.2 212.5"/>
<path d="M488.1 247.1 H498.7 L506.2 251.2"/>
<path d="M610 30 H616.9 L623.7 34.4"/>
<path d="M710 33.1 H705 L688.1 42.5 M705 33.1 V56.9"/>
<path d="M668.7 221.2 L684.4 239.4" stroke-width="1.7"/>
<path d="M583.1 296.2 L590.6 291.5 H596.9"/>
<path d="M668.7 351.2 L683.7 341.9 H690"/>
<path d="M678.1 395.6 L693.7 387.2 H700.6"/>
<path d="M605 447.5 L616.2 441.9 L623.1 441.5"/>
<path d="M661.9 501.9 H671.2 L680 510"/>
<path d="M595 586.5 H605.6 L618.1 579"/>
<path d="M355.6 489.1 H363.7 L378.1 477.2"/>
<path d="M430 540.5 H435 L447.5 533.1"/>
<path stroke-width="1.6" d="M328.7 355.6 C324.5 356 323.7 358 323.7 362 V373 C323.7 376.5 322 378 319.4 378.7 C322 379.5 323.7 381 323.7 384.500 V396 C323.7 400 324.5 402 328.7 402.5"/>
<path d="M325.6 365.6 H333.7 M326.2 392.7 H350.6"/>
</g>

</g>
<!-- LABELS -->
<g id="labels" filter="url(#idf)">
<text transform="translate(395.55,37.00) scale(1.015,1)" style="font-size:14.4px">12</text>
<text transform="translate(333.85,64.10) scale(1.015,1)" style="font-size:14.4px">12</text>
<text transform="translate(352.20,64.10) scale(1,1)" style="font-size:11px">A</text>
<text transform="translate(538.25,77.20) scale(1.015,1)" style="font-size:14.4px">110</text>
<text transform="translate(425.73,107.20) scale(1.015,1)" style="font-size:14.4px">37</text>
<text transform="translate(315.70,147.80) scale(1.015,1)" style="font-size:14.4px">5</text>
<text transform="translate(490.70,171.60) scale(1.015,1)" style="font-size:14.4px">597</text>
<text transform="translate(589.40,157.20) scale(1.015,1)" style="font-size:14.4px">550</text>
<text transform="translate(440.75,227.80) scale(1.015,1)" style="font-size:14.4px">11</text>
<text transform="translate(471.15,252.80) scale(1.015,1)" style="font-size:14.4px">16</text>
<text transform="translate(574.40,35.30) scale(1.015,1)" style="font-size:14.4px">523</text>
<text transform="translate(601.20,35.30) scale(1,1)" style="font-size:11px">A</text>
<text transform="translate(713.40,39.10) scale(1.015,1)" style="font-size:14.4px">587</text>
<text transform="translate(685.00,250.30) scale(1.015,1)" style="font-size:14.4px">587</text>
<text transform="translate(710.50,250.30) scale(1,1)" style="font-size:11px">A</text>
<text transform="translate(599.40,296.70) scale(1.015,1)" style="font-size:14.4px">523</text>
<text transform="translate(624.50,296.70) scale(1,1)" style="font-size:13px">F</text>
<text transform="translate(690.40,347.20) scale(1.015,1)" style="font-size:14.4px">550</text>
<text transform="translate(703.12,392.80) scale(1.015,1)" style="font-size:14.4px">7</text>
<text transform="translate(626.30,447.50) scale(1.015,1)" style="font-size:14.4px">6</text>
<text transform="translate(634.40,447.50) scale(1,1)" style="font-size:11px">A</text>
<text transform="translate(629.20,506.20) scale(1.015,1)" style="font-size:14.4px">550</text>
<text transform="translate(653.80,506.20) scale(1,1)" style="font-size:11px">A</text>
<text transform="translate(585.90,592.80) scale(1.015,1)" style="font-size:14.4px">6</text>
<text transform="translate(300.75,383.20) scale(1.015,1)" style="font-size:14.4px">10</text>
<text transform="translate(321.70,494.10) scale(1.015,1)" style="font-size:14.4px">531</text>
<text transform="translate(345.70,494.10) scale(1,1)" style="font-size:11px">C</text>
<text transform="translate(419.50,545.70) scale(1.015,1)" style="font-size:14.4px">4</text>
<circle cx="620.3" cy="152.8" r="3.8" fill="none" stroke="#111" stroke-width="1.1"/>
<text x="715.3" y="732.8" style="font-size:9.6px;font-weight:bold" textLength="45.6" lengthAdjust="spacingAndGlyphs">9143022436</text>
</g>
</svg>
</body></html>
